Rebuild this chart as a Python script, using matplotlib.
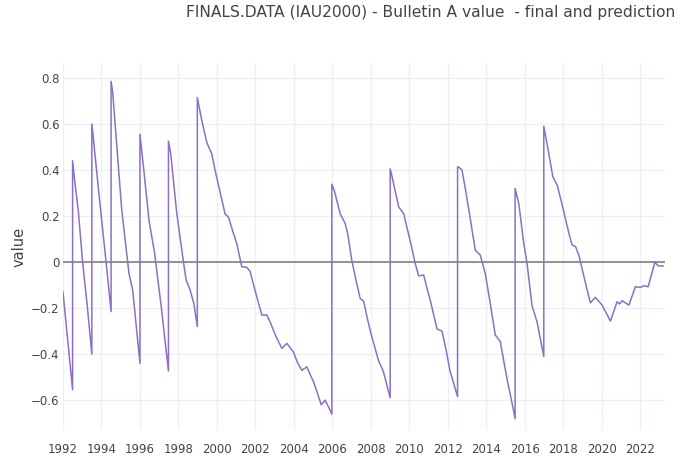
import numpy as np
import matplotlib
matplotlib.use("Agg")
import matplotlib.pyplot as plt

# UT1-UTC (s); leap seconds show as a repeated year
years = [
    1992.00, 1992.20, 1992.50,
    1992.50, 1992.60, 1992.80, 1993.02, 1993.25, 1993.50,
    1993.50, 1993.60, 1993.90, 1994.24, 1994.50,
    1994.50, 1994.58, 1995.05, 1995.43, 1995.62, 1995.80, 1996.00,
    1996.00, 1996.20, 1996.47, 1996.75, 1997.10, 1997.48,
    1997.48, 1997.60, 1997.90, 1998.26, 1998.40, 1998.60, 1998.80, 1998.98,
    1998.98, 1999.20, 1999.47, 1999.73, 1999.90, 2000.20, 2000.42, 2000.60,
    2000.80, 2001.03, 2001.29, 2001.55, 2001.72, 2002.00, 2002.33, 2002.59,
    2002.76, 2003.05, 2003.37, 2003.63, 2003.97, 2004.20, 2004.41, 2004.67,
    2004.85, 2005.02, 2005.42, 2005.62, 2005.80, 2005.97,
    2005.97, 2006.10, 2006.40, 2006.66, 2006.80, 2007.00, 2007.20, 2007.44,
    2007.62, 2007.80, 2008.00, 2008.20, 2008.40, 2008.57, 2008.66, 2009.00,
    2009.00, 2009.10, 2009.44, 2009.70, 2009.90, 2010.10, 2010.30, 2010.48,
    2010.74, 2010.90, 2011.08, 2011.43, 2011.69, 2011.90, 2012.10, 2012.50,
    2012.50, 2012.60, 2012.73, 2012.90, 2013.10, 2013.42, 2013.68, 2013.94,
    2014.20, 2014.46, 2014.72, 2014.90, 2015.10, 2015.30, 2015.49,
    2015.49, 2015.68, 2015.94, 2016.11, 2016.37, 2016.63, 2016.98,
    2016.98, 2017.20, 2017.45, 2017.68, 2017.90, 2018.10, 2018.30, 2018.45,
    2018.63, 2018.80, 2019.00, 2019.20, 2019.40, 2019.66, 2020.01, 2020.44,
    2020.79, 2020.91, 2021.05, 2021.40, 2021.74, 2022.00, 2022.18, 2022.40,
    2022.75, 2022.92, 2023.18,
]
values = [
    -0.13, -0.30, -0.555,
    0.44, 0.36, 0.22, 0.00, -0.18, -0.40,
    0.60, 0.52, 0.27, 0.00, -0.215,
    0.785, 0.74, 0.23, -0.05, -0.12, -0.27, -0.44,
    0.555, 0.40, 0.18, 0.045, -0.19, -0.473,
    0.525, 0.47, 0.22, 0.00, -0.078, -0.12, -0.18, -0.28,
    0.715, 0.62, 0.52, 0.47, 0.40, 0.29, 0.21, 0.195,
    0.14, 0.08, -0.02, -0.023, -0.04, -0.13, -0.23, -0.23,
    -0.26, -0.32, -0.375, -0.353, -0.39, -0.44, -0.47, -0.455,
    -0.49, -0.52, -0.62, -0.60, -0.63, -0.66,
    0.338, 0.31, 0.21, 0.168, 0.12, 0.01, -0.07, -0.158,
    -0.17, -0.24, -0.31, -0.37, -0.43, -0.46, -0.48, -0.59,
    0.405, 0.37, 0.24, 0.21, 0.14, 0.07, -0.006, -0.06,
    -0.056, -0.11, -0.165, -0.29, -0.30, -0.38, -0.47, -0.585,
    0.414, 0.41, 0.40, 0.32, 0.22, 0.052, 0.03, -0.05,
    -0.18, -0.317, -0.345, -0.43, -0.52, -0.60, -0.68,
    0.32, 0.255, 0.08, -0.006, -0.19, -0.26, -0.41,
    0.59, 0.49, 0.37, 0.334, 0.26, 0.19, 0.12, 0.074,
    0.067, 0.03, -0.04, -0.11, -0.177, -0.153, -0.187, -0.256,
    -0.172, -0.182, -0.168, -0.187, -0.107, -0.11, -0.103, -0.107,
    -0.001, -0.016, -0.017,
]
year_ticks = list(range(1992, 2023, 2))
value_ticks = [-0.6, -0.4, -0.2, 0, 0.2, 0.4, 0.6, 0.8]

plt.rcParams["font.family"] = ["DejaVu Sans"]
text_color = "#444444"

fig = plt.figure(figsize=(6.8, 4.63), dpi=100)
ax = fig.add_axes([0.0926, 0.071, 0.886, 0.793])

ax.plot(years, values, color="#8b70c4", linewidth=1.1, zorder=3)
ax.axhline(0, color="#808080", linewidth=1.2, zorder=2)

ax.set_xlim(min(years), max(years) + 0.12)
ax.set_ylim(-0.73, 0.865)
ax.set_xticks(year_ticks)
ax.set_xticklabels([str(y) for y in year_ticks])
ax.set_yticks(value_ticks)
ax.set_yticklabels(["0" if v == 0 else f"{v:.1f}".replace("-", "\u2212") for v in value_ticks])

ax.grid(True, color="#ebf0f8", linewidth=1, zorder=0)
for s in ax.spines.values():
    s.set_visible(False)
ax.tick_params(length=0, labelsize=8.5, colors=text_color)
ax.tick_params(axis="x", pad=9)
ax.tick_params(axis="y", pad=2.5)
ax.set_ylabel("value", fontsize=10.5, color=text_color, labelpad=3)

fig.text(0.993, 0.972, "FINALS.DATA (IAU2000) - Bulletin A value  - final and prediction",
         ha="right", va="center", fontsize=11.2, color=text_color)

fig.savefig("out.png", dpi=100, facecolor="white")
